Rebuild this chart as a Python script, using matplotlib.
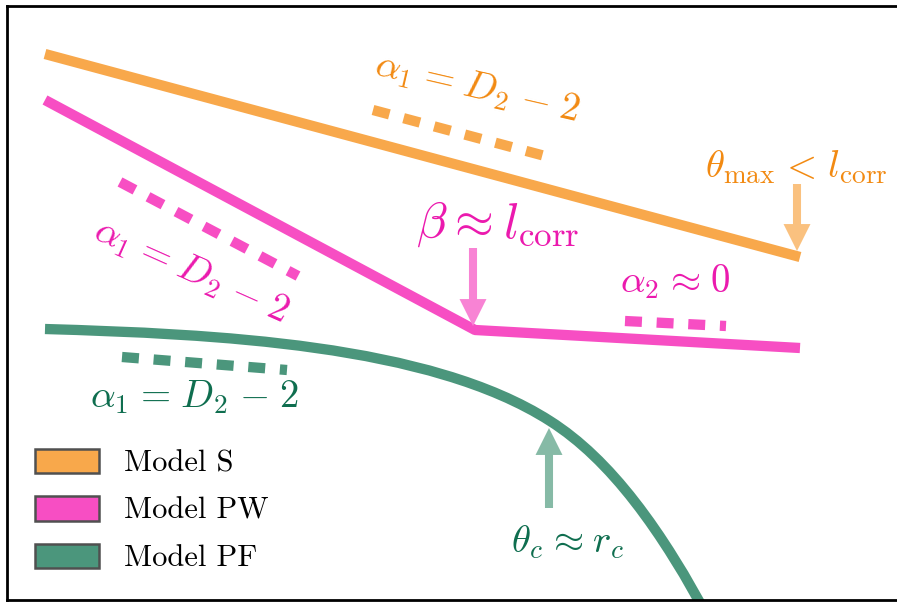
import matplotlib
matplotlib.use("Agg")
import matplotlib.pyplot as plt
from matplotlib.patches import Patch, PathPatch
from matplotlib.path import Path

plt.rcParams['mathtext.fontset'] = 'cm'
plt.rcParams['font.family'] = ['cmr10', 'DejaVu Serif']
plt.rcParams['axes.unicode_minus'] = False
plt.rcParams['lines.scale_dashes'] = False

# schematic coordinates (x to the right, y downwards)
s_x = [45, 800]
s_y = [54, 257]
pw_x = [45, 475, 800]
pw_y = [100, 330, 348]
# model PF is a smooth bend: two cubic bezier pieces (start, ctrl, ctrl, end, ctrl, ctrl, end)
pf_x = [45, 215, 430, 550, 610, 662, 712]
pf_y = [329, 334, 344, 421, 459, 530, 625]

# slope guides
s_slope_x = [373, 545]
s_slope_y = [110, 156]
pw_slope1_x = [120, 298]
pw_slope1_y = [182, 276]
pw_slope2_x = [625, 726]
pw_slope2_y = [321, 326]
pf_slope_x = [122, 287]
pf_slope_y = [357, 370]

labels = ['Model S', 'Model PW', 'Model PF']

orange = '#F8A84B'
orange_txt = '#F28A12'
orange_arr = '#FAC17F'
pink = '#F74EC3'
pink_txt = '#EB1AAE'
pink_arr = '#F883D4'
green = '#4B967C'
green_txt = '#0F6E4F'
green_arr = '#86BAA6'

fig = plt.figure(figsize=(8.97, 6.02), dpi=100)
ax = fig.add_axes([7 / 897, 2 / 602, 903 / 897, 594 / 602])
ax.set_xlim(7, 910)
ax.set_ylim(600, 6)
ax.set_xticks([])
ax.set_yticks([])
for sp in ax.spines.values():
    sp.set_linewidth(2)

lw = 7.4
ax.plot(s_x, s_y, color=orange, lw=lw, solid_capstyle='butt')
ax.plot(pw_x, pw_y, color=pink, lw=lw, solid_capstyle='butt', solid_joinstyle='round')
codes = [Path.MOVETO] + [Path.CURVE4] * 6
pf_path = Path(list(zip(pf_x, pf_y)), codes)
ax.add_patch(PathPatch(pf_path, facecolor='none', edgecolor=green, lw=lw, capstyle='butt'))

dash = (12.2, 10.6)
ax.plot(s_slope_x, s_slope_y, color=orange, lw=lw, dashes=dash)
ax.plot(pw_slope1_x, pw_slope1_y, color=pink, lw=lw, dashes=dash)
ax.plot(pw_slope2_x, pw_slope2_y, color=pink, lw=lw, dashes=dash)
ax.plot(pf_slope_x, pf_slope_y, color=green, lw=lw, dashes=dash)

# arrows
arrow_style = 'simple,head_length=0.97,head_width=0.97,tail_width=0.29'
def arrow(tail, tip, col):
    ax.annotate('', xy=tip, xytext=tail,
                arrowprops=dict(arrowstyle=arrow_style, mutation_scale=20,
                                color=col, lw=0, shrinkA=0, shrinkB=0))

arrow((797, 184), (797, 251), orange_arr)
arrow((473, 248), (473, 326), pink_arr)
arrow((549, 508), (549, 428), green_arr)

fs = 28
alpha1 = r'$\alpha_1 \hspace{0.09}=\hspace{0.09} D_2 \hspace{0.09}-\hspace{0.09} 2$'
ax.text(477, 88, alpha1, color=orange_txt, fontsize=fs,
        rotation=-13, ha='center', va='center', rotation_mode='anchor')
ax.text(796, 167, r'$\theta_{\mathrm{max}} \hspace{0.11}<\hspace{0.11} l_{\mathrm{corr}}$',
        color=orange_txt, fontsize=fs, ha='center', va='center')
ax.text(191, 271, alpha1, color=pink_txt, fontsize=fs,
        rotation=-24, ha='center', va='center', rotation_mode='anchor')
ax.text(498, 224, r'$\beta \hspace{0.03}\approx\hspace{0.03} l_{\mathrm{corr}}$', color=pink_txt,
        fontsize=36, ha='center', va='center')
ax.text(675, 282, r'$\alpha_2 \hspace{0.08}\approx\hspace{0.08} 0$', color=pink_txt, fontsize=fs,
        ha='center', va='center')
ax.text(194, 397, alpha1, color=green_txt, fontsize=fs,
        ha='center', va='center')
ax.text(568, 542, r'$\theta_c \hspace{0.08}\approx\hspace{0.08} r_c$', color=green_txt, fontsize=fs,
        ha='center', va='center')

handles = [Patch(facecolor=c, edgecolor='#505050', lw=1.8) for c in [orange, pink, green]]
ax.legend(handles, labels, loc='lower left', bbox_to_anchor=(0.0177, 0.026),
          frameon=False, fontsize=22, handlelength=2.1, handleheight=0.85,
          handletextpad=0.8, labelspacing=0.61, borderaxespad=0)

fig.savefig('out.png', dpi=100)
